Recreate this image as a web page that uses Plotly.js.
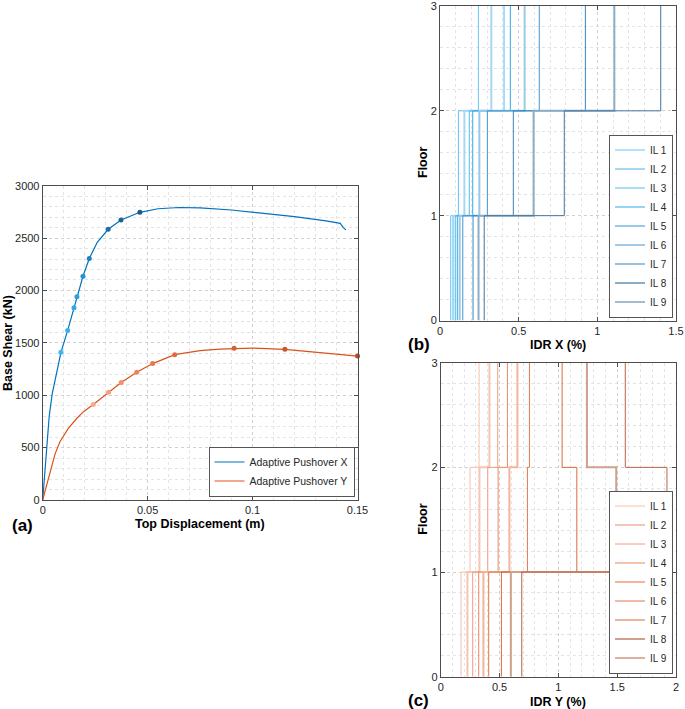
<!DOCTYPE html>
<html>
<head>
<meta charset="utf-8">
<script src="https://cdn.plot.ly/plotly-3.0.1.min.js"></script>
<style>html,body{margin:0;padding:0;background:#fff;}#chart{width:685px;height:709px;}</style>
</head>
<body>
<div id="chart"></div>
<script>
// ---------- data ----------
const pushX_disp  = [0, 0.0017, 0.0031, 0.0045, 0.006, 0.0087, 0.0119, 0.0149, 0.0163, 0.0192, 0.0222, 0.026, 0.0312, 0.0373, 0.0463, 0.055, 0.065, 0.075, 0.09, 0.105, 0.12, 0.135, 0.1405, 0.1418, 0.1432, 0.1445];
const pushX_shear = [0, 460, 800, 1010, 1160, 1410, 1619, 1835, 1940, 2136, 2305, 2460, 2584, 2673, 2746, 2780, 2792, 2788, 2768, 2740, 2705, 2665, 2648, 2640, 2600, 2578];
const pushY_disp  = [0, 0.0059, 0.0082, 0.0122, 0.0162, 0.0193, 0.0241, 0.0314, 0.0374, 0.0448, 0.0524, 0.0629, 0.075, 0.0844, 0.0912, 0.1, 0.1154, 0.125, 0.14, 0.15];
const pushY_shear = [0, 440, 556, 683, 778, 841, 911, 1029, 1121, 1219, 1302, 1387, 1426, 1441, 1448, 1450, 1438, 1420, 1387, 1374];

const ilX_disp  = [0.0087, 0.0119, 0.0149, 0.0163, 0.0192, 0.0222, 0.0312, 0.0373, 0.0463];
const ilX_shear = [1410, 1619, 1835, 1940, 2136, 2305, 2584, 2673, 2746];
const ilY_disp  = [0.0241, 0.0314, 0.0374, 0.0448, 0.0524, 0.0629, 0.0912, 0.1154, 0.15];
const ilY_shear = [911, 1029, 1121, 1219, 1302, 1387, 1448, 1438, 1374];

const ilNames = ['IL 1','IL 2','IL 3','IL 4','IL 5','IL 6','IL 7','IL 8','IL 9'];
const floors  = [0, 1, 2, 3];

const idrX_storey1 = [0.068, 0.083, 0.097, 0.110, 0.125, 0.145, 0.210, 0.245, 0.281];
const idrX_storey2 = [0.117, 0.155, 0.186, 0.208, 0.250, 0.301, 0.466, 0.595, 0.790];
const idrX_storey3 = [0.244, 0.326, 0.407, 0.447, 0.538, 0.631, 0.924, 1.108, 1.403];

const idrY_storey1 = [0.173, 0.227, 0.272, 0.323, 0.363, 0.408, 0.516, 0.596, 0.689];
const idrY_storey2 = [0.249, 0.329, 0.400, 0.488, 0.584, 0.737, 1.157, 1.492, 1.923];
const idrY_storey3 = [0.326, 0.414, 0.485, 0.567, 0.652, 0.754, 1.032, 1.243, 1.569];

// ---------- styles ----------
const FONT = 'Liberation Sans, Arial, Helvetica, sans-serif';
const colorsX = ['#62c6f8','#a6d8f2','#52baf0','#30a8ee','#98c9e8','#4494cf','#3884c2','#8aaec8','#46759e'];
const colorsY = ['#f8c0a6','#f5c4b4','#f29c7a','#ee875e','#f4b49a','#e2774e','#d96a40','#d09f8e','#b96242'];
const widthsIL = [1, 2, 1, 1, 2, 1, 1, 2, 1];
const markerColorsX = ['#3fb6f2','#3bb0ee','#31a8ea','#2a9fe3','#2590d4','#2080c4','#1c6ea8','#1a6398','#1a5a88'];
const markerColorsY = ['#f7ab8b','#f4a080','#f09070','#ec8460','#e67850','#de6c40','#d46238','#c85830','#b84e28'];

function stairs(drifts) {
  const x = [], y = [];
  for (let k = 0; k < drifts.length; k++) {
    x.push(drifts[k], drifts[k]);
    y.push(floors[k], floors[k + 1]);
  }
  return {x, y};
}

const traces = [];
// (a) pushover curves
traces.push({x: pushX_disp, y: pushX_shear, mode: 'lines', name: 'Adaptive Pushover X',
  line: {color: '#0072BD', width: 1.2}, xaxis: 'x', yaxis: 'y', legend: 'legend', showlegend: true});
traces.push({x: pushY_disp, y: pushY_shear, mode: 'lines', name: 'Adaptive Pushover Y',
  line: {color: '#D95319', width: 1.2}, xaxis: 'x', yaxis: 'y', showlegend: false});
traces.push({x: [null], y: [null], mode: 'lines', name: 'Adaptive Pushover Y',
  line: {color: '#f4a68a', width: 2}, xaxis: 'x', yaxis: 'y', legend: 'legend', showlegend: true});
traces.push({x: ilX_disp, y: ilX_shear, mode: 'markers', marker: {color: markerColorsX, size: 5},
  xaxis: 'x', yaxis: 'y', showlegend: false, cliponaxis: false});
traces.push({x: ilY_disp, y: ilY_shear, mode: 'markers', marker: {color: markerColorsY, size: 5},
  xaxis: 'x', yaxis: 'y', showlegend: false, cliponaxis: false});

// (b) IDR X
for (let i = 0; i < ilNames.length; i++) {
  const s = stairs([idrX_storey1[i], idrX_storey2[i], idrX_storey3[i]]);
  traces.push({x: s.x, y: s.y, mode: 'lines', name: ilNames[i],
    line: {color: colorsX[i], width: widthsIL[i]}, xaxis: 'x2', yaxis: 'y2', legend: 'legend2'});
}
// (c) IDR Y
for (let i = 0; i < ilNames.length; i++) {
  const s = stairs([idrY_storey1[i], idrY_storey2[i], idrY_storey3[i]]);
  traces.push({x: s.x, y: s.y, mode: 'lines', name: ilNames[i],
    line: {color: colorsY[i], width: widthsIL[i]}, xaxis: 'x3', yaxis: 'y3', legend: 'legend3'});
}

const W = 685, H = 709;
const px = v => v / W;
const py = v => 1 - v / H;

function axis(domain, range, dtick, minorDtick, anchor) {
  return {
    domain: domain, range: range, dtick: dtick, tick0: 0, anchor: anchor,
    ticks: 'inside', ticklen: 4, tickcolor: '#4d4d4d', tickwidth: 1,
    showline: true, linecolor: '#4d4d4d', linewidth: 1, mirror: 'ticks',
    showgrid: true, gridcolor: '#d0d0d0', griddash: 'dot', gridwidth: 1,
    minor: {dtick: minorDtick, tick0: 0, showgrid: true, gridcolor: '#e4e4e4', griddash: 'dot', ticks: ''},
    zeroline: false, fixedrange: true, ticklabeloverflow: 'allow',
    tickfont: {family: FONT, size: 11, color: '#262626'}
  };
}

const titleFont = {family: FONT, size: 12.5, color: '#000'};
const tagFont = {family: FONT, size: 17, color: '#000'};

function ann(text, x, y, font, angle) {
  return {text: text, x: px(x), y: py(y), xref: 'paper', yref: 'paper', showarrow: false,
    xanchor: 'center', yanchor: 'middle', font: font, textangle: angle || 0};
}

function legendBox(x, y, size) {
  return {x: px(x), y: py(y), xanchor: 'right', yanchor: 'bottom', xref: 'paper', yref: 'paper',
    bgcolor: '#ffffff', bordercolor: '#555555', borderwidth: 1, itemwidth: 30,
    font: {family: FONT, size: size, color: '#262626'}, tracegroupgap: 0};
}

const layout = {
  width: W, height: H,
  margin: {l: 0, r: 0, t: 0, b: 0},
  paper_bgcolor: '#ffffff', plot_bgcolor: '#ffffff',
  showlegend: true,
  xaxis:  axis([px(42.7), px(357.5)], [0, 0.15], 0.05, 0.01, 'y'),
  yaxis:  axis([py(500), py(185.7)], [0, 3000], 500, 100, 'x'),
  xaxis2: axis([px(440), px(676)], [0, 1.5], 0.5, 0.1, 'y2'),
  yaxis2: axis([py(320.5), py(6)], [0, 3], 1, 0.2, 'x2'),
  xaxis3: axis([px(440.7), px(676)], [0, 2], 0.5, 0.1, 'y3'),
  yaxis3: axis([py(676.7), py(362.7)], [0, 3], 1, 0.2, 'x3'),
  legend:  legendBox(354.5, 496.5, 10.5),
  legend2: legendBox(673, 317.5, 10),
  legend3: legendBox(673, 673.5, 10),
  annotations: [
    ann('<b>Base Shear (kN)</b>', 8, 343, titleFont, -90),
    ann('<b>Top Displacement (m)</b>', 200, 524, titleFont),
    ann('<b>(a)</b>', 22.5, 525, tagFont),
    ann('<b>Floor</b>', 423, 163, titleFont, -90),
    ann('<b>IDR X (%)</b>', 558, 345, titleFont),
    ann('<b>(b)</b>', 418.5, 344.5, tagFont),
    ann('<b>Floor</b>', 423, 519.7, titleFont, -90),
    ann('<b>IDR Y (%)</b>', 558, 702, titleFont),
    ann('<b>(c)</b>', 418.5, 700, tagFont)
  ]
};

Plotly.newPlot('chart', traces, layout, {displayModeBar: false, staticPlot: true});
</script>
</body>
</html>
